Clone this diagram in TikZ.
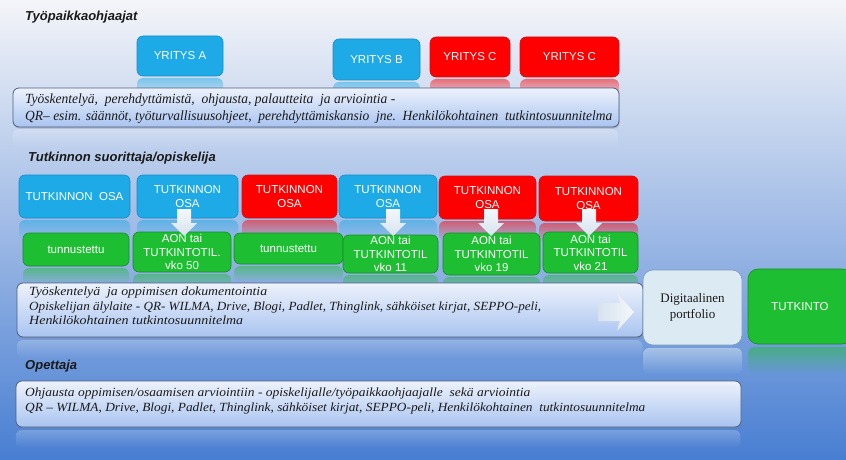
\documentclass[tikz,border=0pt]{standalone}
\usepackage{fontspec}
\setmainfont{Liberation Serif}
\setsansfont{Liberation Sans}
\usetikzlibrary{shadows,fadings}
\definecolor{bgA}{RGB}{244,245,249}
\definecolor{bgB}{RGB}{180,200,234}
\definecolor{bgC}{RGB}{72,126,210}
\definecolor{boxblue}{RGB}{29,170,230}
\definecolor{boxblueD}{RGB}{22,140,200}
\definecolor{boxred}{RGB}{255,0,0}
\definecolor{boxredD}{RGB}{196,20,30}
\definecolor{boxgreen}{RGB}{30,190,50}
\definecolor{boxgreenD}{RGB}{22,140,40}
\definecolor{tTop}{RGB}{237,242,252}
\definecolor{tBot}{RGB}{169,196,240}
\definecolor{tborder}{RGB}{78,95,128}
\definecolor{portfill}{RGB}{220,234,243}
\definecolor{portdraw}{RGB}{126,154,184}
\definecolor{arrfillA}{RGB}{244,247,250}
\definecolor{arrfillB}{RGB}{214,227,238}
\definecolor{inktext}{RGB}{26,26,26}
\tikzfading[name=reflfade, top color=transparent!50, bottom color=transparent!100]
\tikzfading[name=reflfadeweak, top color=transparent!78, bottom color=transparent!100]
\newcommand\reflbox[5]{\fill[#5, rounded corners=6pt, path fading=reflfade] (#1,#2) rectangle (#3,#4);}
\newcommand\reflweak[4]{\fill[white, rounded corners=6pt, path fading=reflfadeweak] (#1,#2) rectangle (#3,#4);}
\newcommand\dnarrow[1]{\shade[top color=arrfillA, bottom color=arrfillB] (#1-7,209) -- (#1+7,209) -- (#1+7,223) -- (#1+13,223) -- (#1,236) -- (#1-13,223) -- (#1-7,223) -- cycle;}
\begin{document}
\begin{tikzpicture}[x=1pt,y=-1pt,
  cbox/.style={rounded corners=6pt, draw, line width=0.6pt, text=white, align=center, inner sep=0pt,
    font=\sffamily\fontsize{11.5}{13.5}\selectfont},
  bluebox/.style={cbox, fill=boxblue, draw=boxblueD},
  redbox/.style={cbox, fill=boxred, draw=boxredD},
  greenbox/.style={cbox, fill=boxgreen, draw=boxgreenD},
  tbox/.style={rounded corners=6pt, draw=tborder, line width=0.8pt, top color=tTop, bottom color=tBot,
    drop shadow={shadow xshift=0.6pt, shadow yshift=-1.6pt, opacity=0.35}, inner sep=0pt},
  heading/.style={anchor=base west, inner sep=0pt, text=inktext, font=\sffamily\bfseries\itshape\fontsize{13}{15}\selectfont},
  tline/.style={anchor=base west, inner sep=0pt, text=inktext},
  bigfont/.style={font=\itshape\fontsize{14}{16}\selectfont},
  smallfont/.style={font=\itshape\fontsize{12.5}{14}\selectfont}
]
\useasboundingbox (0,0) rectangle (846,460);
\shade[shading angle=61.5, top color=bgA, middle color=bgB, bottom color=bgC] (0,0) rectangle (846,460);

% reflections
\reflbox{137}{78}{223}{98}{boxblue}
\reflbox{333}{82}{420}{100}{boxblue}
\reflbox{430}{79}{510}{99}{boxred}
\reflbox{520}{79}{619}{99}{boxred}
\reflweak{13}{129}{619}{148}
\reflbox{19}{220}{130}{240}{boxblue}
\reflbox{137}{220}{238}{240}{boxblue}
\reflbox{242}{220}{337}{240}{boxred}
\reflbox{339}{220}{437}{240}{boxblue}
\reflbox{439}{221}{536}{241}{boxred}
\reflbox{539}{223}{638}{243}{boxred}
\reflbox{23}{268}{129}{284}{boxgreen}
\reflbox{133}{274}{231}{290}{boxgreen}
\reflbox{234}{266}{343}{282}{boxgreen}
\reflbox{343}{275}{438}{291}{boxgreen}
\reflbox{443}{277}{540}{293}{boxgreen}
\reflbox{543}{275}{638}{291}{boxgreen}
\reflweak{17}{340}{643}{358}
\reflbox{643}{348}{742}{374}{portfill}
\reflbox{748}{347}{852}{374}{boxgreen}
\reflweak{16}{430}{741}{448}

% headings
\node[heading] (h1) at (25,21) {Työpaikkaohjaajat};
\node[heading] (h2) at (28,161) {Tutkinnon suorittaja/opiskelija};
\node[heading] (h3) at (25,369) {Opettaja};

% companies
\node[bluebox, minimum width=86pt, minimum height=40pt] (ya) at (180,56) {YRITYS A};
\node[bluebox, minimum width=87pt, minimum height=41pt] (yb) at (376.5,59.5) {YRITYS B};
\node[redbox, minimum width=80pt, minimum height=40pt] (yc1) at (470,57) {YRITYS C};
\node[redbox, minimum width=99pt, minimum height=40pt] (yc2) at (569.5,57) {YRITYS C};

% text box 1
\node[tbox, minimum width=606pt, minimum height=39pt] (tb1) at (316,107.5) {};
\node[tline, bigfont] (t1a) at (25,103) {\resizebox{370pt}{\height}{Työskentelyä,\ \ perehdyttämistä,\ \ ohjausta,\ palautteita\ \ ja\ arviointia\ -}};
\node[tline, bigfont] (t1b) at (25,120) {\resizebox{587pt}{\height}{QR– esim. säännöt, työturvallisuusohjeet,\ \ perehdyttämiskansio\ \ jne.\ \ Henkilökohtainen\ \ tutkintosuunnitelma}};

% tutkinnon osat
\node[bluebox, minimum width=111pt, minimum height=43pt] (o1) at (74.5,196.5) {TUTKINNON\ \ OSA};
\node[bluebox, minimum width=101pt, minimum height=43pt] (o2) at (187.5,196.5) {TUTKINNON\\OSA};
\node[redbox, minimum width=95pt, minimum height=43pt] (o3) at (289.5,196.5) {TUTKINNON\\OSA};
\node[bluebox, minimum width=98pt, minimum height=43pt] (o4) at (388,196.5) {TUTKINNON\\OSA};
\node[redbox, minimum width=97pt, minimum height=43pt] (o5) at (487.5,197.5) {TUTKINNON\\OSA};
\node[redbox, minimum width=99pt, minimum height=45pt] (o6) at (588.5,198.5) {TUTKINNON\\OSA};

% green
\node[greenbox, minimum width=106pt, minimum height=33pt] (g1) at (76,249.5) {tunnustettu};
\node[greenbox, minimum width=98pt, minimum height=40pt] (g2) at (182,252) {AON tai\\TUTKINTOTIL.\\vko 50};
\node[greenbox, minimum width=109pt, minimum height=31pt] (g3) at (288.5,248.5) {tunnustettu};
\node[greenbox, minimum width=95pt, minimum height=38pt] (g4) at (390.5,254) {AON tai\\TUTKINTOTIL\\vko 11};
\node[greenbox, minimum width=97pt, minimum height=42pt] (g5) at (491.5,254) {AON tai\\TUTKINTOTIL\\vko 19};
\node[greenbox, minimum width=95pt, minimum height=41pt] (g6) at (590.5,252.5) {AON tai\\TUTKINTOTIL\\vko 21};

\dnarrow{184}
\dnarrow{393}
\dnarrow{491}
\dnarrow{589}

% text box 2
\node[tbox, minimum width=626pt, minimum height=54pt] (tb2) at (330,310) {};
\node[tline, smallfont] (t2a) at (29,295) {\resizebox{238pt}{\height}{Työskentelyä\ \ ja\ oppimisen dokumentointia}};
\node[tline, smallfont] (t2b) at (29,310) {\resizebox{512pt}{\height}{Opiskelijan älylaite - QR- WILMA, Drive, Blogi, Padlet, Thinglink, sähköiset kirjat, SEPPO-peli,}};
\node[tline, smallfont] (t2c) at (29,324) {\resizebox{214pt}{\height}{Henkilökohtainen tutkintosuunnitelma}};
\shade[left color=arrfillB, right color=arrfillA] (598,303) -- (620,303) -- (617,293) -- (634,312) -- (617,331) -- (620,321) -- (598,321) -- cycle;

% portfolio + tutkinto
\node[rounded corners=10pt, draw=portdraw, fill=portfill, line width=0.6pt, minimum width=99pt, minimum height=75pt,
  align=center, text=inktext, font=\fontsize{13}{16}\selectfont] (pf) at (692.5,307.5) {Digitaalinen\\portfolio};
\node[greenbox, rounded corners=10pt, minimum width=104pt, minimum height=75pt] (tk) at (800,306.5) {TUTKINTO};

% text box 3
\node[tbox, minimum width=725pt, minimum height=46pt] (tb3) at (378.5,404) {};
\node[tline, smallfont] (t3a) at (25,396) {\resizebox{505pt}{\height}{Ohjausta oppimisen/osaamisen arviointiin - opiskelijalle/työpaikkaohjaajalle\ \ sekä arviointia}};
\node[tline, smallfont] (t3b) at (25,411) {\resizebox{620pt}{\height}{QR – WILMA, Drive, Blogi, Padlet, Thinglink, sähköiset kirjat,\ SEPPO-peli,\ Henkilökohtainen\ \ tutkintosuunnitelma}};
\end{tikzpicture}
\end{document}
